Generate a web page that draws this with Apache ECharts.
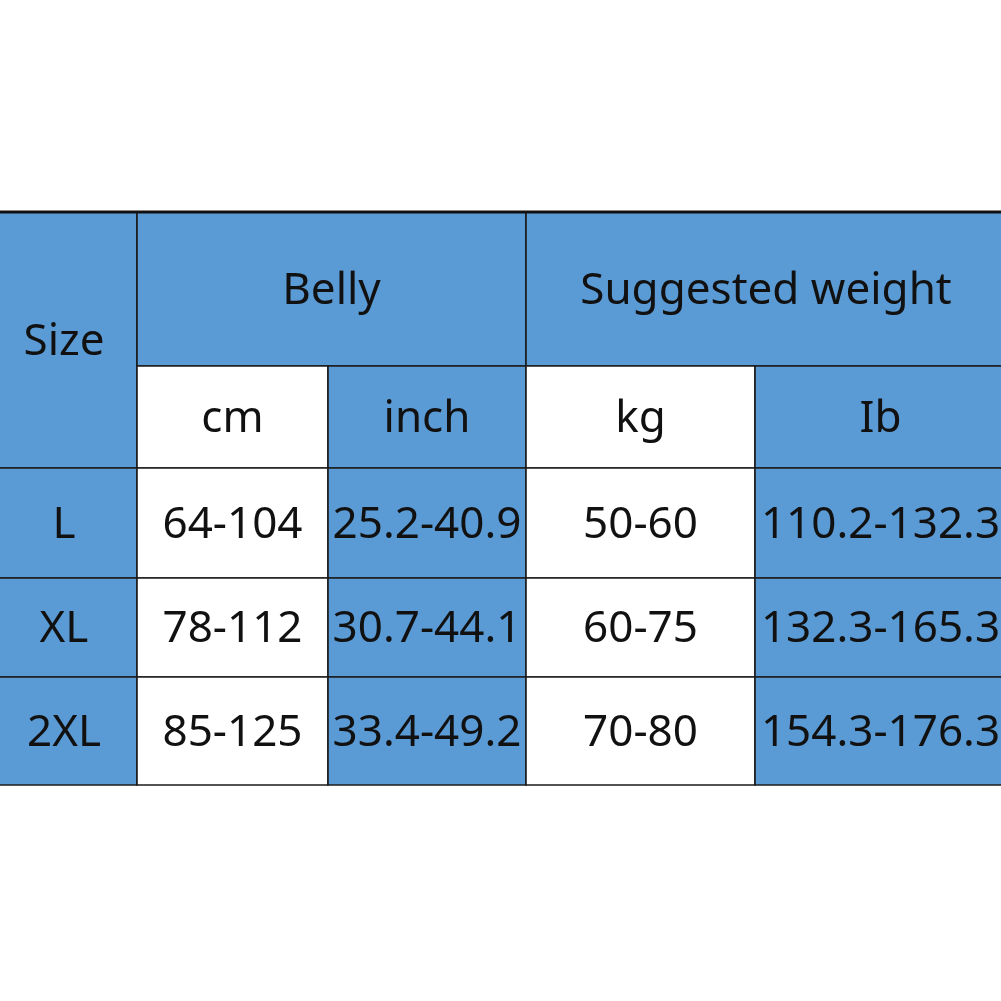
<!DOCTYPE html>
<html>
<head>
<meta charset="utf-8">
<script src="https://cdn.jsdelivr.net/npm/echarts@6/dist/echarts.min.js"></script>
<style>
  html, body { margin: 0; padding: 0; background: #ffffff; }
  #chart { width: 1001px; height: 1001px; }
</style>
</head>
<body>
<div id="chart"></div>
<script>
// table content
var sizeHeader = 'Size';
var groupHeaders = ['Belly', 'Suggested weight'];
var unitHeaders = ['cm', 'inch', 'kg', 'Ib'];
var sizes = ['L', 'XL', '2XL'];
var bellyCm = ['64-104', '78-112', '85-125'];
var bellyInch = ['25.2-40.9', '30.7-44.1', '33.4-49.2'];
var weightKg = ['50-60', '60-75', '70-80'];
var weightLb = ['110.2-132.3', '132.3-165.3', '154.3-176.3'];

// layout (pixel edges on a 0..1001 axis)
var colEdges = [-9, 137, 328, 526, 755, 1006];
var rowEdges = [212, 366, 468, 578, 677, 785];
var BLUE = '#5b9bd5', WHITE = '#ffffff';

// cells: [col0, col1, row0, row1, text, fill]
var cells = [];
cells.push([0, 1, 0, 2, sizeHeader, BLUE]);
cells.push([1, 3, 0, 1, groupHeaders[0], BLUE]);
cells.push([3, 5, 0, 1, groupHeaders[1], BLUE]);
for (var i = 0; i < unitHeaders.length; i++) {
  cells.push([1 + i, 2 + i, 1, 2, unitHeaders[i], i % 2 === 0 ? WHITE : BLUE]);
}
var cols = [sizes, bellyCm, bellyInch, weightKg, weightLb];
for (var r = 0; r < sizes.length; r++) {
  for (var c = 0; c < cols.length; c++) {
    cells.push([c, c + 1, 2 + r, 3 + r, cols[c][r], (c === 1 || c === 3) ? WHITE : BLUE]);
  }
}

var renderCell = function (params, api) {
  var d = cells[params.dataIndex];
  var p0 = api.coord([colEdges[d[0]], rowEdges[d[2]]]);
  var p1 = api.coord([colEdges[d[1]], rowEdges[d[3]]]);
  return {
    type: 'group',
    children: [{
      type: 'rect',
      shape: { x: p0[0], y: p0[1], width: p1[0] - p0[0], height: p1[1] - p0[1] },
      style: { fill: d[5], stroke: '#1c1c1c', lineWidth: 1.6 }
    }, {
      type: 'text',
      x: (p0[0] + p1[0]) / 2,
      y: (p0[1] + p1[1]) / 2 + 2,
      style: {
        text: d[4],
        align: 'center',
        verticalAlign: 'middle',
        fill: '#111111',
        font: '44px "Noto Sans", "Open Sans", sans-serif'
      }
    }]
  };
};

var renderTopLine = function (params, api) {
  var a = api.coord([colEdges[0], rowEdges[0]]);
  var b = api.coord([colEdges[colEdges.length - 1], rowEdges[0]]);
  return {
    type: 'line',
    shape: { x1: a[0], y1: a[1], x2: b[0], y2: b[1] },
    style: { stroke: '#111111', lineWidth: 3 }
  };
};

var chart = echarts.init(document.getElementById('chart'));
chart.setOption({
  backgroundColor: '#ffffff',
  animation: false,
  grid: { left: 0, right: 0, top: 0, bottom: 0 },
  xAxis: { type: 'value', min: 0, max: 1001, show: false },
  yAxis: { type: 'value', min: 0, max: 1001, inverse: true, show: false },
  series: [{
    type: 'custom',
    clip: false,
    renderItem: renderCell,
    data: cells.map(function (d, i) { return [i]; })
  }, {
    type: 'custom',
    clip: false,
    renderItem: renderTopLine,
    data: [[0]]
  }]
});
</script>
</body>
</html>
